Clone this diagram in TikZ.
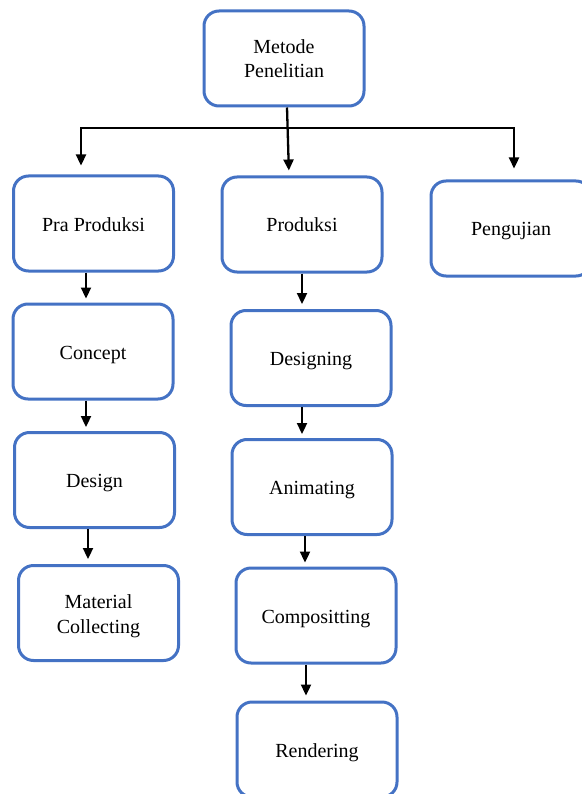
\documentclass[tikz,border=0pt]{standalone}
\usepackage{fontspec}
\setmainfont{Liberation Serif}
\usetikzlibrary{arrows.meta}
\definecolor{boxblue}{HTML}{4472C4}
\begin{document}
\begin{tikzpicture}[x=1pt,y=-1pt,
  box/.style={draw=boxblue, line width=3pt, rounded corners=15pt, minimum width=160pt,
    minimum height=95pt, align=center, inner sep=0pt,
    font=\fontsize{20}{24.5}\selectfont},
  one/.style={text height=15pt, text depth=0pt},
  txt/.style={align=center, inner sep=0pt, font=\fontsize{20}{24.5}\selectfont},
  arr/.style={line width=2.3pt, -{Triangle[length=11pt,width=10pt]}}]
\useasboundingbox (0,0) rectangle (581,794);
\node[box] (meta) at (284,58.5) {Metode\\Penelitian};
\node[box, one] (pra) at (93.5,223.5) {Pra Produksi};
\node[box, one] (prod) at (302,224.5) {Produksi};
\node[box, one] (peng) at (511,228.5) {Pengujian};
\node[box, one] (concept) at (93,351.5) {Concept};
\node[box, one] (design) at (94.5,480) {Design};
\node[box] (material) at (98.5,613) {};
\node[txt] (materialtext) at ([yshift=-3pt]material.center) {Material\\Collecting};
\node[box, one] (designing) at (311,358) {Designing};
\node[box, one] (animating) at (312,487) {Animating};
\node[box, one] (compositing) at (316,615.5) {Compositting};
\node[box, one] (rendering) at (317,749.5) {Rendering};
\coordinate (hm) at (287,128);
\draw[arr, shorten >=5pt] ([xshift=3pt]meta.south) -- ([xshift=-13pt]prod.north);
\draw[arr, shorten >=9pt] (hm) -| ([xshift=-12.5pt]pra.north);
\draw[arr, shorten >=11pt] (hm) -| ([xshift=3pt]peng.north);
\draw[arr, shorten >=4pt] ([xshift=-7.5pt]pra.south) -- ([xshift=-7pt]concept.north);
\draw[arr, shorten >=4pt] ([xshift=-7pt]concept.south) -- ([xshift=-8.5pt]design.north);
\draw[arr, shorten >=5pt] ([xshift=-6.5pt]design.south) -- ([xshift=-10.5pt]material.north);
\draw[arr, shorten >=5pt] (prod.south) -- ([xshift=-9pt]designing.north);
\draw[arr, shorten >=4pt] ([xshift=-9pt]designing.south) -- ([xshift=-10pt]animating.north);
\draw[arr, shorten >=4pt] ([xshift=-7pt]animating.south) -- ([xshift=-11pt]compositing.north);
\draw[arr, shorten >=5pt] ([xshift=-10pt]compositing.south) -- ([xshift=-11pt]rendering.north);
\end{tikzpicture}
\end{document}
